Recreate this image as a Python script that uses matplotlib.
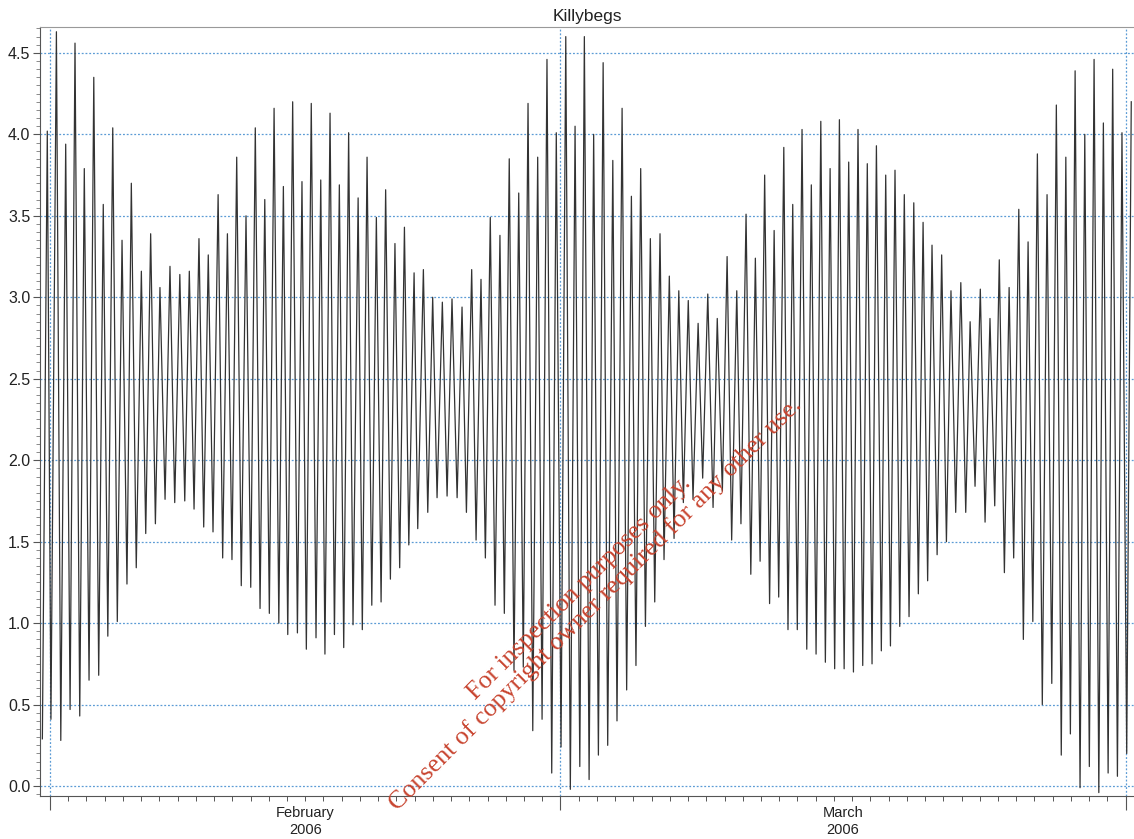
import numpy as np
import matplotlib
matplotlib.use("Agg")
import matplotlib.pyplot as plt
import matplotlib.dates as mdates
from matplotlib.ticker import MultipleLocator, FormatStrFormatter, NullFormatter

# Killybegs tide: low and high waters
# times are days after 2006-02-01 00:00, heights in metres
low_days = [-0.42, 0.05, 0.59, 1.10, 1.63, 2.14, 2.67, 3.17, 3.69, 4.22,
            4.73, 5.25, 5.78, 6.31, 6.84, 7.39, 7.90, 8.43, 8.94, 9.47,
            9.98, 10.49, 11.01, 11.52, 12.03, 12.55, 13.04, 13.57, 14.06, 14.59,
            15.08, 15.60, 16.11, 16.62, 17.13, 17.65, 18.16, 18.67, 19.18, 19.68,
            20.17, 20.72, 21.23, 21.78, 22.33, 22.84, 23.37, 23.88, 24.41, 24.92,
            25.45, 25.96, 26.48, 26.99, 27.52, 28.03, 28.54, 29.06, 29.57, 30.08,
            30.59, 31.10, 31.63, 32.14, 32.66, 33.17, 33.68, 34.23, 34.74, 35.27,
            35.80, 36.37, 36.88, 37.39, 37.90, 38.44, 38.95, 39.47, 39.97, 40.48,
            40.99, 41.51, 42.02, 42.53, 43.04, 43.56, 44.07, 44.58, 45.09, 45.60,
            46.10, 46.61, 47.12, 47.63, 48.14, 48.66, 49.17, 49.68, 50.23, 50.74,
            51.29, 51.82, 52.35, 52.86, 53.39, 53.91, 54.43, 54.95, 55.47, 55.97,
            56.50, 57.01, 57.53, 58.04, 58.55, 59.06]
low_heights = [0.29, 0.41, 0.28, 0.47, 0.43, 0.65, 0.68, 0.92, 1.01, 1.24,
               1.34, 1.55, 1.61, 1.76, 1.74, 1.75, 1.70, 1.59, 1.56, 1.40,
               1.39, 1.23, 1.22, 1.09, 1.06, 1.00, 0.93, 0.94, 0.84, 0.91,
               0.81, 0.93, 0.85, 0.99, 0.96, 1.11, 1.13, 1.27, 1.34, 1.48,
               1.58, 1.68, 1.77, 1.78, 1.77, 1.68, 1.51, 1.40, 1.11, 1.06,
               0.71, 0.73, 0.34, 0.41, 0.08, 0.24, -0.02, 0.12, 0.04, 0.19,
               0.25, 0.40, 0.59, 0.74, 0.98, 1.13, 1.39, 1.52, 1.74, 1.76,
               1.89, 1.71, 1.81, 1.51, 1.61, 1.30, 1.38, 1.12, 1.16, 0.96,
               0.96, 0.84, 0.81, 0.76, 0.72, 0.72, 0.70, 0.74, 0.75, 0.83,
               0.86, 0.98, 1.04, 1.18, 1.26, 1.42, 1.50, 1.68, 1.68, 1.84,
               1.62, 1.72, 1.31, 1.40, 0.90, 1.01, 0.50, 0.63, 0.19, 0.32,
               -0.01, 0.12, -0.04, 0.08, 0.06, 0.20]
high_days = [-0.15, 0.35, 0.86, 1.37, 1.88, 2.40, 2.92, 3.44, 3.95, 4.46,
             5.01, 5.52, 6.03, 6.58, 7.12, 7.64, 8.17, 8.68, 9.22, 9.73,
             10.24, 10.75, 11.26, 11.78, 12.29, 12.80, 13.31, 13.82, 14.33, 14.85,
             15.36, 15.87, 16.38, 16.90, 17.39, 17.90, 18.41, 18.92, 19.44, 19.97,
             20.48, 20.99, 21.52, 22.05, 22.60, 23.13, 23.64, 24.15, 24.68, 25.19,
             25.71, 26.22, 26.75, 27.26, 27.77, 28.29, 28.80, 29.31, 29.82, 30.34,
             30.87, 31.38, 31.89, 32.40, 32.93, 33.46, 33.97, 34.49, 35.01, 35.55,
             36.08, 36.60, 37.14, 37.67, 38.18, 38.69, 39.20, 39.72, 40.25, 40.74,
             41.25, 41.76, 42.28, 42.79, 43.30, 43.81, 44.32, 44.83, 45.33, 45.84,
             46.35, 46.86, 47.38, 47.89, 48.38, 48.91, 49.42, 49.96, 50.47, 51.03,
             51.56, 52.07, 52.61, 53.14, 53.65, 54.16, 54.69, 55.20, 55.72, 56.23,
             56.76, 57.27, 57.78, 58.29, 58.80, 59.31]
high_heights = [4.02, 4.63, 3.94, 4.56, 3.79, 4.35, 3.57, 4.04, 3.35, 3.70,
                3.16, 3.39, 3.06, 3.19, 3.14, 3.16, 3.36, 3.26, 3.63, 3.39,
                3.86, 3.50, 4.04, 3.60, 4.16, 3.68, 4.20, 3.71, 4.19, 3.72,
                4.13, 3.69, 4.01, 3.61, 3.86, 3.49, 3.66, 3.33, 3.43, 3.15,
                3.17, 3.00, 2.97, 2.99, 2.94, 3.17, 3.11, 3.49, 3.38, 3.85,
                3.64, 4.19, 3.86, 4.46, 4.01, 4.60, 4.05, 4.60, 4.00, 4.44,
                3.84, 4.16, 3.62, 3.79, 3.36, 3.39, 3.13, 3.04, 2.98, 2.84,
                3.02, 2.87, 3.25, 3.04, 3.51, 3.24, 3.75, 3.41, 3.92, 3.57,
                4.03, 3.69, 4.08, 3.79, 4.09, 3.83, 4.03, 3.82, 3.93, 3.75,
                3.78, 3.63, 3.58, 3.46, 3.32, 3.26, 3.04, 3.09, 2.85, 3.05,
                2.87, 3.23, 3.06, 3.54, 3.34, 3.88, 3.63, 4.18, 3.86, 4.39,
                4.00, 4.46, 4.07, 4.40, 4.01, 4.20]

month_starts = ['2006-02-01', '2006-03-01', '2006-04-01']
month_labels = ['February\n2006', 'March\n2006']

t0 = np.datetime64('2006-02-01T00:00')


def to_time(days):
    mins = np.round(np.asarray(days) * 1440).astype('int64')
    return t0 + mins.astype('timedelta64[m]')


# low water then high water, one after another
days = np.column_stack([low_days, high_days]).ravel()
heights = np.column_stack([low_heights, high_heights]).ravel()
times = to_time(days)

plt.rcParams['font.family'] = ['Liberation Sans', 'DejaVu Sans']

fig = plt.figure(figsize=(11.34, 8.39), dpi=100)
ax = fig.add_axes([40 / 1134, 1 - 796 / 839, 1094 / 1134, 769 / 839])

ax.plot(times, heights, color='#333333', lw=0.9)

ax.set_xlim(to_time(-0.55), to_time(59.46))
ax.set_ylim(-0.061, 4.659)

ax.xaxis.set_major_locator(mdates.MonthLocator())
ax.xaxis.set_minor_locator(mdates.DayLocator())
ax.xaxis.set_major_formatter(NullFormatter())
ax.yaxis.set_major_locator(MultipleLocator(0.5))
ax.yaxis.set_minor_locator(MultipleLocator(0.05))
ax.yaxis.set_major_formatter(FormatStrFormatter('%.1f'))

ax.tick_params(axis='x', which='major', length=10, width=0.8, color='#555555')
ax.tick_params(axis='x', which='minor', length=3.5, width=0.7, color='#555555')
ax.tick_params(axis='y', which='major', length=5, width=0.8, color='#555555',
               labelsize=11.5, labelcolor='#222222', pad=2)
ax.tick_params(axis='y', which='minor', length=3, width=0.6, color='#777777')

grid_style = dict(color='#5b9bd5', linestyle=(0, (1.5, 1.5)), lw=0.9)
ax.grid(axis='y', which='major', **grid_style)
ax.grid(axis='x', which='major', **grid_style)
ax.set_axisbelow(True)

for s in ['left', 'bottom']:
    ax.spines[s].set_color('#555555')
ax.spines['top'].set_color('#999999')
ax.spines['right'].set_visible(False)

# month names sit in the middle of each month
starts = [np.datetime64(m + 'T00:00') for m in month_starts]
for a, b, lab in zip(starts[:-1], starts[1:], month_labels):
    mid = a + (b - a) / 2
    ax.text(mid, -0.013, lab, transform=ax.get_xaxis_transform(),
            ha='center', va='top', fontsize=10.5, color='#222222',
            linespacing=1.25)

ax.set_title('Killybegs', fontsize=12.5, color='#222222', pad=4)

fig.text(588 / 1134, 1 - 596 / 839,
         'For inspection purposes only.\nConsent of copyright owner required for any other use.',
         rotation=45, ha='center', va='center', multialignment='center',
         rotation_mode='anchor', family=['Liberation Serif', 'DejaVu Serif'],
         fontsize=18.7, color='#c8442f', linespacing=1.0)

fig.savefig('out.png', dpi=100)
